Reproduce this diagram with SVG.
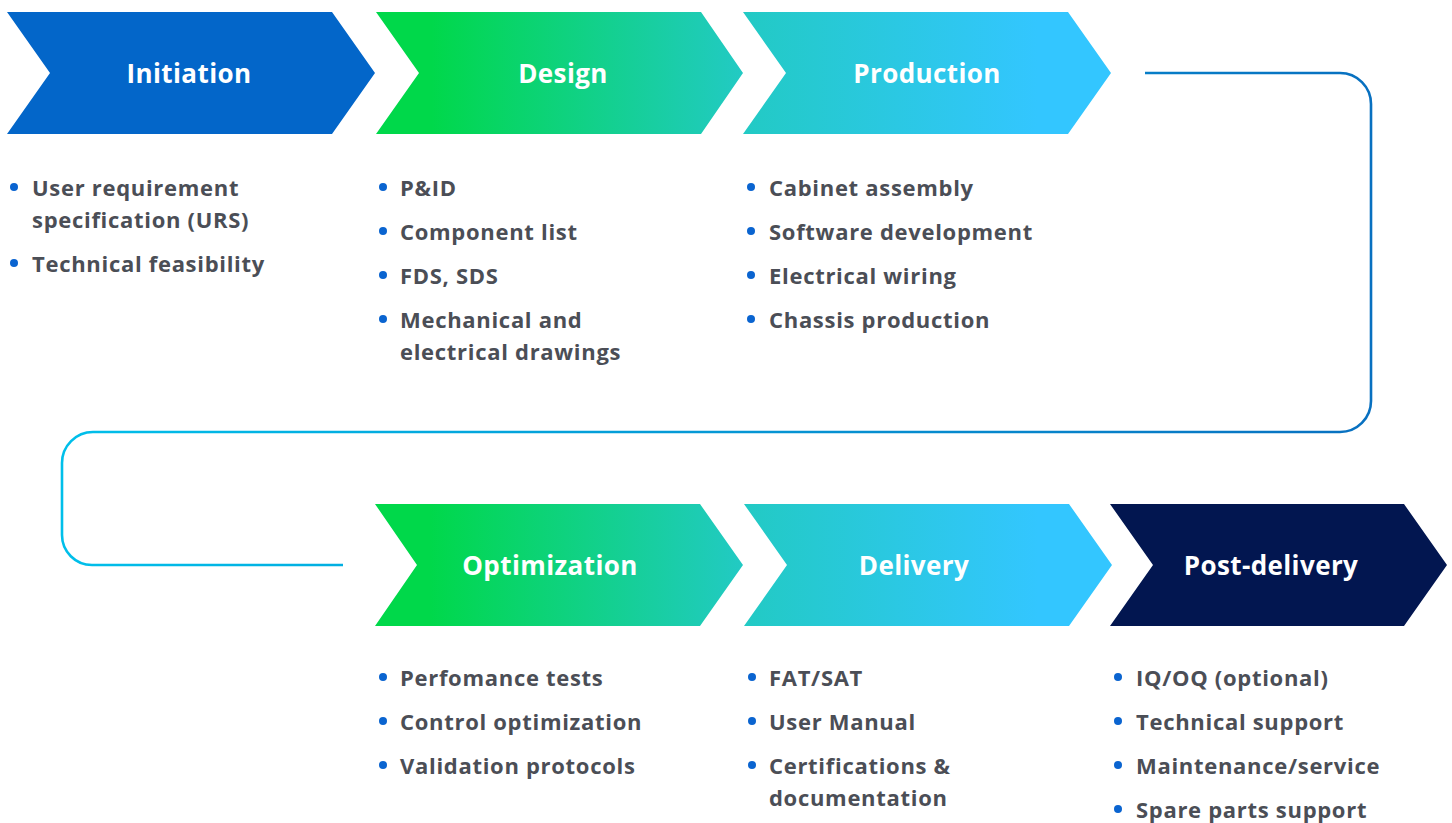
<svg xmlns="http://www.w3.org/2000/svg" width="1452" height="823" viewBox="0 0 1452 823">
<defs>
<linearGradient id="gGreen" x1="0" y1="0" x2="1" y2="0">
<stop offset="0.15" stop-color="#00D84A"/>
<stop offset="1" stop-color="#22CAC4"/>
</linearGradient>
<linearGradient id="gBlue" x1="0" y1="0" x2="1" y2="0">
<stop offset="0" stop-color="#22CAC4"/>
<stop offset="0.8" stop-color="#33C6FF"/>
<stop offset="1" stop-color="#33C6FF"/>
</linearGradient>
<linearGradient id="gLine" gradientUnits="userSpaceOnUse" x1="1371" y1="0" x2="62" y2="0">
<stop offset="0" stop-color="#0870C0"/>
<stop offset="1" stop-color="#00BFEA"/>
</linearGradient>
</defs>
<style>
.title{font-family:"Open Sans","Liberation Sans",sans-serif;font-weight:700;font-size:26px;letter-spacing:0.4px;fill:#FFFFFF;text-anchor:middle}
.item{font-family:"Open Sans","Liberation Sans",sans-serif;font-weight:700;font-size:22px;letter-spacing:0.7px;fill:#4B4E56}
.dot{fill:#0A64D0}
.conn{fill:none;stroke:url(#gLine);stroke-width:2.6}
</style>
<rect width="1452" height="823" fill="#FFFFFF"/>
<g id="connectors">
<path class="conn" d="M1145,73 H1340 A31,31 0 0 1 1371,104 V401 A31,31 0 0 1 1340,432 H93 A31,31 0 0 0 62,463 V535 A30,30 0 0 0 92,565 H343"/>
</g>
<g id="initiation">
<polygon points="7,12 332,12 375,73 332,134 7,134 50,73" fill="#0366C9"/>
<text class="title" x="189" y="83">Initiation</text>
<circle class="dot" cx="14" cy="187" r="4"/>
<text class="item" x="32" y="196">User requirement</text>
<text class="item" x="32" y="228">specification (URS)</text>
<circle class="dot" cx="14" cy="263" r="4"/>
<text class="item" x="32" y="272">Technical feasibility</text>
</g>
<g id="design">
<polygon points="376,12 701,12 743,73 701,134 376,134 419,73" fill="url(#gGreen)"/>
<text class="title" x="563" y="83">Design</text>
<circle class="dot" cx="383" cy="187" r="4"/>
<text class="item" x="400" y="196">P&amp;ID</text>
<circle class="dot" cx="383" cy="231" r="4"/>
<text class="item" x="400" y="240">Component list</text>
<circle class="dot" cx="383" cy="275" r="4"/>
<text class="item" x="400" y="284">FDS, SDS</text>
<circle class="dot" cx="383" cy="319" r="4"/>
<text class="item" x="400" y="328">Mechanical and</text>
<text class="item" x="400" y="360">electrical drawings</text>
</g>
<g id="production">
<polygon points="743,12 1068,12 1111,73 1068,134 743,134 786,73" fill="url(#gBlue)"/>
<text class="title" x="927" y="83">Production</text>
<circle class="dot" cx="751" cy="187" r="4"/>
<text class="item" x="769" y="196">Cabinet assembly</text>
<circle class="dot" cx="751" cy="231" r="4"/>
<text class="item" x="769" y="240">Software development</text>
<circle class="dot" cx="751" cy="275" r="4"/>
<text class="item" x="769" y="284">Electrical wiring</text>
<circle class="dot" cx="751" cy="319" r="4"/>
<text class="item" x="769" y="328">Chassis production</text>
</g>
<g id="optimization">
<polygon points="375,504 700,504 743,565 700,626 375,626 417,565" fill="url(#gGreen)"/>
<text class="title" x="550" y="575">Optimization</text>
<circle class="dot" cx="383" cy="677" r="4"/>
<text class="item" x="400" y="686">Perfomance tests</text>
<circle class="dot" cx="383" cy="721" r="4"/>
<text class="item" x="400" y="730">Control optimization</text>
<circle class="dot" cx="383" cy="765" r="4"/>
<text class="item" x="400" y="774">Validation protocols</text>
</g>
<g id="delivery">
<polygon points="744,504 1069,504 1112,565 1069,626 744,626 787,565" fill="url(#gBlue)"/>
<text class="title" x="914" y="575">Delivery</text>
<circle class="dot" cx="752" cy="677" r="4"/>
<text class="item" x="769" y="686">FAT/SAT</text>
<circle class="dot" cx="752" cy="721" r="4"/>
<text class="item" x="769" y="730">User Manual</text>
<circle class="dot" cx="752" cy="765" r="4"/>
<text class="item" x="769" y="774">Certifications &amp;</text>
<text class="item" x="769" y="806">documentation</text>
</g>
<g id="post-delivery">
<polygon points="1110,504 1404,504 1447,565 1404,626 1110,626 1153,565" fill="#021650"/>
<text class="title" x="1271" y="575">Post-delivery</text>
<circle class="dot" cx="1118" cy="677" r="4"/>
<text class="item" x="1136" y="686">IQ/OQ (optional)</text>
<circle class="dot" cx="1118" cy="721" r="4"/>
<text class="item" x="1136" y="730">Technical support</text>
<circle class="dot" cx="1118" cy="765" r="4"/>
<text class="item" x="1136" y="774">Maintenance/service</text>
<circle class="dot" cx="1118" cy="809" r="4"/>
<text class="item" x="1136" y="818">Spare parts support</text>
</g>
</svg>
